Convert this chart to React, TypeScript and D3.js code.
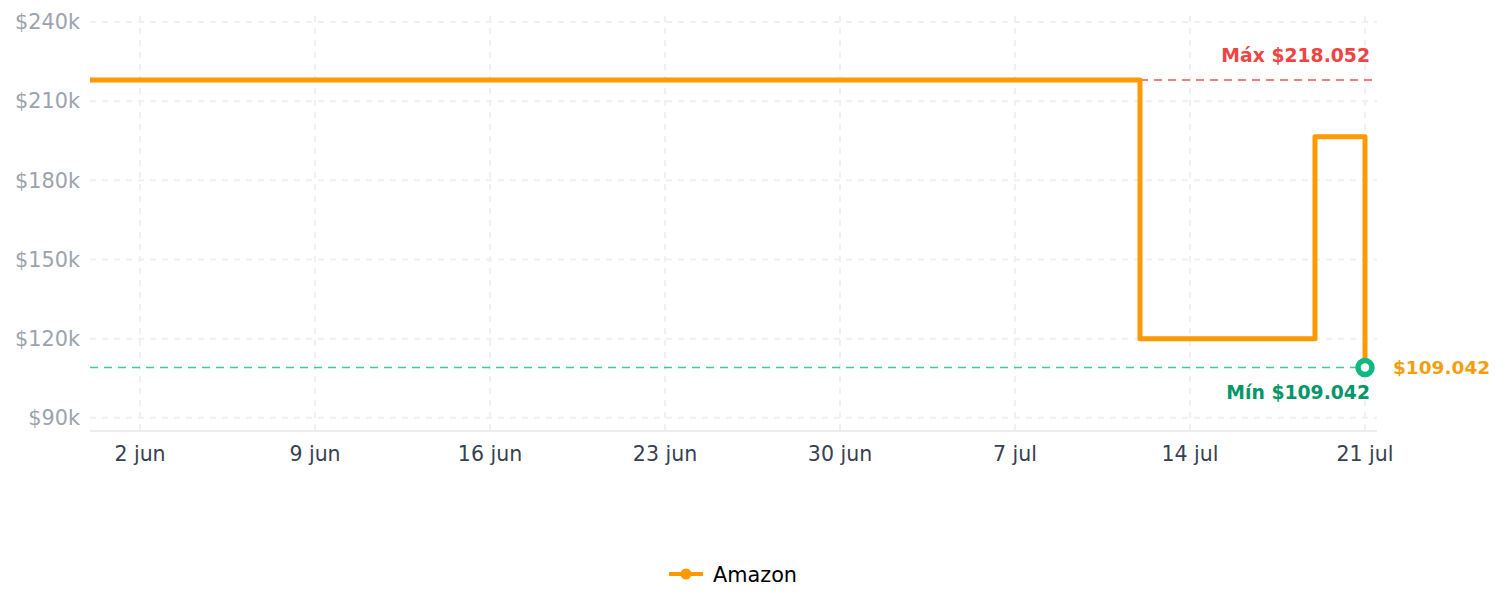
import React from "react";
import * as d3 from "d3";

// price history (step after), values in $
const dates = ["2024-05-31", "2024-07-12", "2024-07-19", "2024-07-21"];
const prices = [218052, 120000, 196500, 109042];
const yTicks = [90000, 120000, 150000, 180000, 210000, 240000];
const xTickDates = ["2024-06-02", "2024-06-09", "2024-06-16", "2024-06-23", "2024-06-30", "2024-07-07", "2024-07-14", "2024-07-21"];
const xTickLabels = ["2 jun", "9 jun", "16 jun", "23 jun", "30 jun", "7 jul", "14 jul", "21 jul"];
const maxPrice = 218052;
const minPrice = 109042;

const width = 1505;
const height = 609;
const left = 90;
const right = 1377;
const top = 22;
const bottom = 431;
const font = "'DejaVu Sans', sans-serif";
const orange = "#ff9900";

const parse = d3.timeParse("%Y-%m-%d");

export default function App() {
  const x = d3.scaleTime()
    .domain([parse("2024-05-31")!, parse("2024-07-21")!])
    .range([left, 1365]);
  const y = d3.scaleLinear().domain([85000, 240000]).range([bottom, top]);

  const pts = dates.map((d, i) => ({ date: parse(d)!, v: prices[i] }));
  const line = d3.line<{ date: Date; v: number }>()
    .x(d => x(d.date))
    .y(d => y(d.v))
    .curve(d3.curveStepAfter);

  const last = pts[pts.length - 1];
  const fmt = (v: number) => "$" + d3.format(",")(v).replace(/,/g, ".");

  return (
    <svg width={width} height={height} style={{ position: "absolute", left: 0, top: 0 }} fontFamily={font}>
      {/* grid */}
      {yTicks.map(t => (
        <line key={"gy" + t} x1={left} x2={right} y1={y(t)} y2={y(t)} stroke="#f0f0f0" strokeWidth={2} strokeDasharray="6 6" />
      ))}
      {xTickDates.map(t => (
        <line key={"gx" + t} x1={x(parse(t)!)} x2={x(parse(t)!)} y1={top - 6} y2={bottom} stroke="#f0f0f0" strokeWidth={2} strokeDasharray="6 6" />
      ))}
      {/* axis line */}
      <line x1={left} x2={right} y1={bottom} y2={bottom} stroke="#e5e7eb" strokeWidth={1.5} />
      {yTicks.map(t => (
        <text key={"ty" + t} x={80} y={y(t)} dy="0.35em" textAnchor="end" fontSize={20.8} fill="#9ca3af">
          {"$" + t / 1000 + "k"}
        </text>
      ))}
      {xTickDates.map((t, i) => (
        <text key={"tx" + t} x={x(parse(t)!)} y={454} dy="0.35em" textAnchor="middle" fontSize={20.5} fill="#374151">
          {xTickLabels[i]}
        </text>
      ))}
      {/* reference lines */}
      <line x1={left} x2={right} y1={y(maxPrice)} y2={y(maxPrice)} stroke="#ef4444" strokeOpacity={0.7} strokeWidth={2} strokeDasharray="8 6" />
      <line x1={left} x2={right} y1={y(minPrice)} y2={y(minPrice)} stroke="#10b981" strokeOpacity={0.8} strokeWidth={1.5} strokeDasharray="8 6" />
      <text x={1370} y={y(maxPrice) - 24} dy="0.35em" textAnchor="end" fontSize={18.8} fontWeight="bold" fill="#ef4444">
        {"Máx " + fmt(maxPrice)}
      </text>
      <text x={1370} y={y(minPrice) + 25} dy="0.35em" textAnchor="end" fontSize={18.8} fontWeight="bold" fill="#059669">
        {"Mín " + fmt(minPrice)}
      </text>
      {/* price line */}
      <path d={line(pts) || ""} fill="none" stroke={orange} strokeWidth={5} strokeLinejoin="round" />
      <circle cx={x(last.date)} cy={y(last.v)} r={7} fill="#fff" stroke="#10b981" strokeWidth={5.5} />
      <text x={1393} y={y(last.v)} dy="0.35em" fontSize={18.5} fontWeight="bold" fill="#f59e0b">
        {fmt(last.v)}
      </text>
      {/* legend */}
      <line x1={669} x2={703} y1={574} y2={574} stroke={orange} strokeWidth={4} />
      <circle cx={686} cy={574} r={5.5} fill={orange} />
      <text x={713} y={575} dy="0.35em" fontSize={20.8} fill="#000">Amazon</text>
    </svg>
  );
}
